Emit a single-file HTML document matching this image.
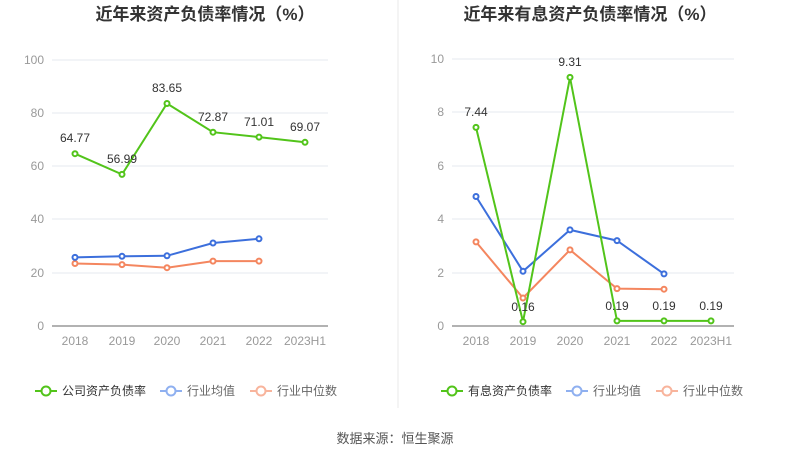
<!DOCTYPE html>
<html><head><meta charset="utf-8"><style>
body{margin:0;background:#fff;}
svg text{font-family:"Liberation Sans","Noto Sans CJK SC",sans-serif;}
</style></head><body>
<svg width="790" height="459" xmlns="http://www.w3.org/2000/svg">
<rect width="790" height="459" fill="#fff"/>
<line x1="398" y1="0" x2="398" y2="408" stroke="#e8e8e8"/>
<text x="205" y="20" font-size="17" font-weight="bold" fill="#333" text-anchor="middle">近年来资产负债率情况（%）</text>
<text x="590" y="20" font-size="17" font-weight="bold" fill="#333" text-anchor="middle">近年来有息资产负债率情况（%）</text>
<!-- left grid -->
<g stroke="#e6e9ef">
<line x1="52" y1="60" x2="328" y2="60"/><line x1="52" y1="113" x2="328" y2="113"/><line x1="52" y1="166" x2="328" y2="166"/><line x1="52" y1="219" x2="328" y2="219"/><line x1="52" y1="273" x2="328" y2="273"/>
<line x1="452" y1="59" x2="734" y2="59"/><line x1="452" y1="112" x2="734" y2="112"/><line x1="452" y1="166" x2="734" y2="166"/><line x1="452" y1="219" x2="734" y2="219"/><line x1="452" y1="273" x2="734" y2="273"/>
</g>
<line x1="52" y1="326" x2="328" y2="326" stroke="#666"/>
<line x1="452" y1="326" x2="734" y2="326" stroke="#666"/>
<g font-size="12" fill="#999" text-anchor="end">
<text x="44" y="64">100</text><text x="44" y="117">80</text><text x="44" y="170">60</text><text x="44" y="223">40</text><text x="44" y="277">20</text><text x="44" y="330">0</text>
<text x="444" y="63">10</text><text x="444" y="116">8</text><text x="444" y="170">6</text><text x="444" y="223">4</text><text x="444" y="277">2</text><text x="444" y="330">0</text>
</g>
<g font-size="12" fill="#999" text-anchor="middle">
<text x="75" y="345">2018</text><text x="122" y="345">2019</text><text x="167" y="345">2020</text><text x="213" y="345">2021</text><text x="259" y="345">2022</text><text x="305" y="345">2023H1</text>
<text x="476" y="345">2018</text><text x="523" y="345">2019</text><text x="570" y="345">2020</text><text x="617" y="345">2021</text><text x="664" y="345">2022</text><text x="711" y="345">2023H1</text>
</g>
<g fill="#fff" stroke-width="2">
<polyline fill="none" stroke="#f4865f" points="75,263.5 122,264.6 167,267.7 213,261.1 259,261.1"/>
<polyline fill="none" stroke="#3c6fdc" points="75,257.4 122,256.3 167,255.8 213,243 259,238.8"/>
<polyline fill="none" stroke="#52c41a" points="75,153.7 122,174.4 167,103.5 213,132.2 259,137.1 305,142.3"/>
<g stroke="#f4865f"><circle cx="75" cy="263.5" r="2.5"/><circle cx="122" cy="264.6" r="2.5"/><circle cx="167" cy="267.7" r="2.5"/><circle cx="213" cy="261.1" r="2.5"/><circle cx="259" cy="261.1" r="2.5"/></g>
<g stroke="#3c6fdc"><circle cx="75" cy="257.4" r="2.5"/><circle cx="122" cy="256.3" r="2.5"/><circle cx="167" cy="255.8" r="2.5"/><circle cx="213" cy="243" r="2.5"/><circle cx="259" cy="238.8" r="2.5"/></g>
<g stroke="#52c41a"><circle cx="75" cy="153.7" r="2.5"/><circle cx="122" cy="174.4" r="2.5"/><circle cx="167" cy="103.5" r="2.5"/><circle cx="213" cy="132.2" r="2.5"/><circle cx="259" cy="137.1" r="2.5"/><circle cx="305" cy="142.3" r="2.5"/></g>
<polyline fill="none" stroke="#f4865f" points="476,241.9 523,298 570,249.9 617,288.6 664,289.2"/>
<polyline fill="none" stroke="#3c6fdc" points="476,196.5 523,271.3 570,229.9 617,240.6 664,273.9"/>
<polyline fill="none" stroke="#52c41a" points="476,127.4 523,321.7 570,77.4 617,320.9 664,320.9 711,320.9"/>
<g stroke="#f4865f"><circle cx="476" cy="241.9" r="2.5"/><circle cx="523" cy="298" r="2.5"/><circle cx="570" cy="249.9" r="2.5"/><circle cx="617" cy="288.6" r="2.5"/><circle cx="664" cy="289.2" r="2.5"/></g>
<g stroke="#3c6fdc"><circle cx="476" cy="196.5" r="2.5"/><circle cx="523" cy="271.3" r="2.5"/><circle cx="570" cy="229.9" r="2.5"/><circle cx="617" cy="240.6" r="2.5"/><circle cx="664" cy="273.9" r="2.5"/></g>
<g stroke="#52c41a"><circle cx="476" cy="127.4" r="2.5"/><circle cx="523" cy="321.7" r="2.5"/><circle cx="570" cy="77.4" r="2.5"/><circle cx="617" cy="320.9" r="2.5"/><circle cx="664" cy="320.9" r="2.5"/><circle cx="711" cy="320.9" r="2.5"/></g>
</g>
<g font-size="12" fill="#333" text-anchor="middle">
<text x="75" y="142">64.77</text><text x="122" y="163">56.99</text><text x="167" y="92">83.65</text><text x="213" y="121">72.87</text><text x="259" y="126">71.01</text><text x="305" y="131">69.07</text>
<text x="476" y="116">7.44</text><text x="523" y="311">0.16</text><text x="570" y="66">9.31</text><text x="617" y="310">0.19</text><text x="664" y="310">0.19</text><text x="711" y="310">0.19</text>
</g>
<!-- legends -->
<g font-size="12" fill="#333" stroke-width="2">
<line x1="35" y1="391" x2="57" y2="391" stroke="#52c41a"/><circle cx="46" cy="391" r="4.5" fill="#fff" stroke="#52c41a"/><text x="62" y="395">公司资产负债率</text>
<line x1="160" y1="391" x2="182" y2="391" stroke="#8fb0f0"/><circle cx="171" cy="391" r="4.5" fill="#fff" stroke="#8fb0f0"/><text x="187" y="395" fill="#666">行业均值</text>
<line x1="250" y1="391" x2="272" y2="391" stroke="#f8b49c"/><circle cx="261" cy="391" r="4.5" fill="#fff" stroke="#f8b49c"/><text x="277" y="395" fill="#666">行业中位数</text>
<line x1="441" y1="391" x2="463" y2="391" stroke="#52c41a"/><circle cx="452" cy="391" r="4.5" fill="#fff" stroke="#52c41a"/><text x="468" y="395">有息资产负债率</text>
<line x1="566" y1="391" x2="588" y2="391" stroke="#8fb0f0"/><circle cx="577" cy="391" r="4.5" fill="#fff" stroke="#8fb0f0"/><text x="593" y="395" fill="#666">行业均值</text>
<line x1="656" y1="391" x2="678" y2="391" stroke="#f8b49c"/><circle cx="667" cy="391" r="4.5" fill="#fff" stroke="#f8b49c"/><text x="683" y="395" fill="#666">行业中位数</text>
</g>
<text x="395" y="443" font-size="13" fill="#555" text-anchor="middle">数据来源：恒生聚源</text>
</svg>
</body></html>
